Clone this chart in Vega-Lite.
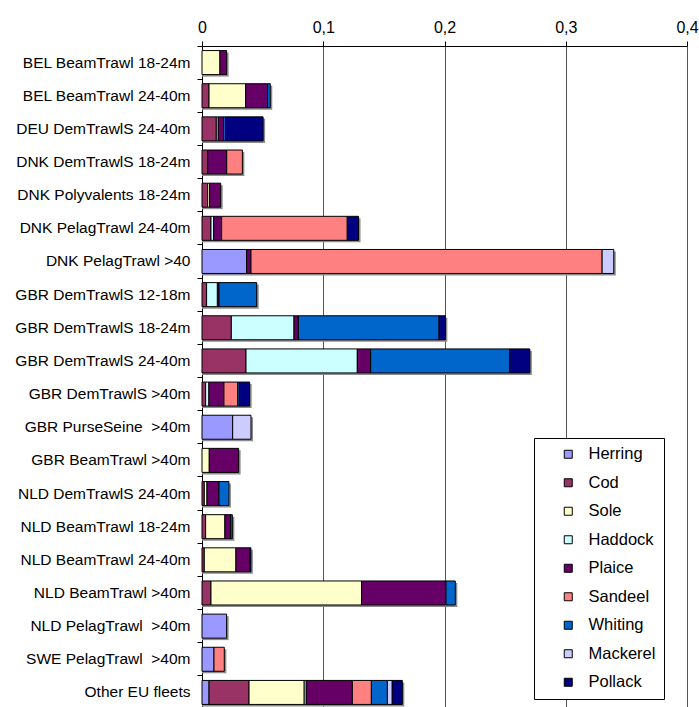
{
  "$schema": "https://vega.github.io/schema/vega-lite/v6.json",
  "width": 485,
  "height": 663,
  "autosize": "none",
  "padding": {"left": 202, "top": 46, "right": 12, "bottom": 0},
  "background": "white",
  "config": {
    "view": {"stroke": null},
    "font": "Liberation Sans"
  },
  "data": {
    "values": [
      {"fleet": "BEL BeamTrawl 18-24m", "species": "Sole", "value": 0.0148},
      {"fleet": "BEL BeamTrawl 18-24m", "species": "Plaice", "value": 0.0055},
      {"fleet": "BEL BeamTrawl 24-40m", "species": "Cod", "value": 0.0058},
      {"fleet": "BEL BeamTrawl 24-40m", "species": "Sole", "value": 0.0302},
      {"fleet": "BEL BeamTrawl 24-40m", "species": "Plaice", "value": 0.0181},
      {"fleet": "BEL BeamTrawl 24-40m", "species": "Whiting", "value": 0.0022},
      {"fleet": "DEU DemTrawlS 24-40m", "species": "Cod", "value": 0.0118},
      {"fleet": "DEU DemTrawlS 24-40m", "species": "Haddock", "value": 0.0016},
      {"fleet": "DEU DemTrawlS 24-40m", "species": "Plaice", "value": 0.0044},
      {"fleet": "DEU DemTrawlS 24-40m", "species": "Whiting", "value": 0.0016},
      {"fleet": "DEU DemTrawlS 24-40m", "species": "Pollack", "value": 0.031},
      {"fleet": "DNK DemTrawlS 18-24m", "species": "Cod", "value": 0.0047},
      {"fleet": "DNK DemTrawlS 18-24m", "species": "Plaice", "value": 0.0157},
      {"fleet": "DNK DemTrawlS 18-24m", "species": "Sandeel", "value": 0.0129},
      {"fleet": "DNK Polyvalents 18-24m", "species": "Cod", "value": 0.0047},
      {"fleet": "DNK Polyvalents 18-24m", "species": "Sole", "value": 0.0016},
      {"fleet": "DNK Polyvalents 18-24m", "species": "Plaice", "value": 0.0091},
      {"fleet": "DNK PelagTrawl 24-40m", "species": "Cod", "value": 0.0074},
      {"fleet": "DNK PelagTrawl 24-40m", "species": "Haddock", "value": 0.0022},
      {"fleet": "DNK PelagTrawl 24-40m", "species": "Plaice", "value": 0.0066},
      {"fleet": "DNK PelagTrawl 24-40m", "species": "Sandeel", "value": 0.1036},
      {"fleet": "DNK PelagTrawl 24-40m", "species": "Pollack", "value": 0.0093},
      {"fleet": "DNK PelagTrawl >40", "species": "Herring", "value": 0.0368},
      {"fleet": "DNK PelagTrawl >40", "species": "Plaice", "value": 0.0036},
      {"fleet": "DNK PelagTrawl >40", "species": "Sandeel", "value": 0.2896},
      {"fleet": "DNK PelagTrawl >40", "species": "Mackerel", "value": 0.0096},
      {"fleet": "GBR DemTrawlS 12-18m", "species": "Cod", "value": 0.0038},
      {"fleet": "GBR DemTrawlS 12-18m", "species": "Plaice", "value": 0.0014},
      {"fleet": "GBR DemTrawlS 12-18m", "species": "Haddock", "value": 0.0088},
      {"fleet": "GBR DemTrawlS 12-18m", "species": "Whiting", "value": 0.0311},
      {"fleet": "GBR DemTrawlS 18-24m", "species": "Cod", "value": 0.0242},
      {"fleet": "GBR DemTrawlS 18-24m", "species": "Haddock", "value": 0.0517},
      {"fleet": "GBR DemTrawlS 18-24m", "species": "Plaice", "value": 0.0036},
      {"fleet": "GBR DemTrawlS 18-24m", "species": "Whiting", "value": 0.116},
      {"fleet": "GBR DemTrawlS 18-24m", "species": "Pollack", "value": 0.0052},
      {"fleet": "GBR DemTrawlS 24-40m", "species": "Cod", "value": 0.0363},
      {"fleet": "GBR DemTrawlS 24-40m", "species": "Haddock", "value": 0.0918},
      {"fleet": "GBR DemTrawlS 24-40m", "species": "Plaice", "value": 0.011},
      {"fleet": "GBR DemTrawlS 24-40m", "species": "Whiting", "value": 0.1148},
      {"fleet": "GBR DemTrawlS 24-40m", "species": "Pollack", "value": 0.0165},
      {"fleet": "GBR DemTrawlS >40m", "species": "Cod", "value": 0.003},
      {"fleet": "GBR DemTrawlS >40m", "species": "Haddock", "value": 0.0027},
      {"fleet": "GBR DemTrawlS >40m", "species": "Plaice", "value": 0.0124},
      {"fleet": "GBR DemTrawlS >40m", "species": "Sandeel", "value": 0.0113},
      {"fleet": "GBR DemTrawlS >40m", "species": "Whiting", "value": 0.0014},
      {"fleet": "GBR DemTrawlS >40m", "species": "Pollack", "value": 0.0085},
      {"fleet": "GBR PurseSeine \u00a0>40m", "species": "Herring", "value": 0.0253},
      {"fleet": "GBR PurseSeine \u00a0>40m", "species": "Mackerel", "value": 0.0151},
      {"fleet": "GBR BeamTrawl >40m", "species": "Sole", "value": 0.006},
      {"fleet": "GBR BeamTrawl >40m", "species": "Plaice", "value": 0.0242},
      {"fleet": "NLD DemTrawlS 24-40m", "species": "Cod", "value": 0.0019},
      {"fleet": "NLD DemTrawlS 24-40m", "species": "Sole", "value": 0.0022},
      {"fleet": "NLD DemTrawlS 24-40m", "species": "Plaice", "value": 0.0099},
      {"fleet": "NLD DemTrawlS 24-40m", "species": "Whiting", "value": 0.0082},
      {"fleet": "NLD BeamTrawl 18-24m", "species": "Cod", "value": 0.003},
      {"fleet": "NLD BeamTrawl 18-24m", "species": "Sole", "value": 0.0159},
      {"fleet": "NLD BeamTrawl 18-24m", "species": "Plaice", "value": 0.0047},
      {"fleet": "NLD BeamTrawl 18-24m", "species": "Whiting", "value": 0.0014},
      {"fleet": "NLD BeamTrawl 24-40m", "species": "Cod", "value": 0.0019},
      {"fleet": "NLD BeamTrawl 24-40m", "species": "Sole", "value": 0.0261},
      {"fleet": "NLD BeamTrawl 24-40m", "species": "Plaice", "value": 0.0115},
      {"fleet": "NLD BeamTrawl 24-40m", "species": "Pollack", "value": 0.0008},
      {"fleet": "NLD BeamTrawl >40m", "species": "Cod", "value": 0.0074},
      {"fleet": "NLD BeamTrawl >40m", "species": "Sole", "value": 0.1242},
      {"fleet": "NLD BeamTrawl >40m", "species": "Plaice", "value": 0.0696},
      {"fleet": "NLD BeamTrawl >40m", "species": "Whiting", "value": 0.0077},
      {"fleet": "NLD PelagTrawl \u00a0>40m", "species": "Herring", "value": 0.0203},
      {"fleet": "SWE PelagTrawl \u00a0>40m", "species": "Herring", "value": 0.0099},
      {"fleet": "SWE PelagTrawl \u00a0>40m", "species": "Sandeel", "value": 0.0085},
      {"fleet": "Other EU fleets", "species": "Herring", "value": 0.0058},
      {"fleet": "Other EU fleets", "species": "Cod", "value": 0.033},
      {"fleet": "Other EU fleets", "species": "Sole", "value": 0.0455},
      {"fleet": "Other EU fleets", "species": "Haddock", "value": 0.0017},
      {"fleet": "Other EU fleets", "species": "Plaice", "value": 0.038},
      {"fleet": "Other EU fleets", "species": "Sandeel", "value": 0.0157},
      {"fleet": "Other EU fleets", "species": "Whiting", "value": 0.0132},
      {"fleet": "Other EU fleets", "species": "Mackerel", "value": 0.004},
      {"fleet": "Other EU fleets", "species": "Pollack", "value": 0.0083}
    ]
  },
  "transform": [
    {"calculate": "indexof(['Herring','Cod','Sole','Haddock','Plaice','Sandeel','Whiting','Mackerel','Pollack'], datum.species)", "as": "stackOrder"}
  ],
  "encoding": {
    "y": {
      "field": "fleet",
      "type": "nominal",
      "sort": null,
      "scale": {"paddingInner": 0, "paddingOuter": 0},
      "axis": {
        "title": null,
        "bandPosition": 0,
        "domainColor": "black",
        "tickColor": "black",
        "tickSize": 5,
        "labelPadding": 7,
        "labelFontSize": 15.5,
        "labelColor": "black",
        "labelLimit": 250,
        "grid": false
      }
    }
  },
  "layer": [
    {
      "mark": {"type": "bar", "height": {"band": 0.724}, "fill": "#8c8c8c", "stroke": null, "xOffset": 2, "yOffset": 2},
      "encoding": {
        "x": {
          "field": "value",
          "type": "quantitative",
          "aggregate": "sum",
          "scale": {"domain": [0, 0.4], "nice": false},
          "axis": {
            "orient": "top",
            "title": null,
            "values": [0, 0.1, 0.2, 0.3, 0.4],
            "labelExpr": "datum.value == 0 ? '0' : replace(format(datum.value, '.1f'), '.', ',')",
            "domainColor": "black",
            "tickColor": "black",
            "tickSize": 5,
            "labelPadding": 6,
            "labelFontSize": 16,
            "labelColor": "black",
            "labelFlush": false,
            "grid": true,
            "gridColor": "#555555",
            "gridOpacity": 1,
            "gridWidth": 1
          }
        }
      }
    },
    {
      "mark": {"type": "bar", "height": {"band": 0.724}, "stroke": "black", "strokeWidth": 1},
      "encoding": {
        "x": {
          "field": "value",
          "type": "quantitative",
          "stack": "zero"
        },
        "order": {"field": "stackOrder", "type": "quantitative", "sort": "ascending"},
        "color": {
          "field": "species",
          "type": "nominal",
          "sort": ["Herring", "Cod", "Sole", "Haddock", "Plaice", "Sandeel", "Whiting", "Mackerel", "Pollack"],
          "scale": {
            "domain": ["Herring", "Cod", "Sole", "Haddock", "Plaice", "Sandeel", "Whiting", "Mackerel", "Pollack"],
            "range": ["#9999FF", "#993366", "#FFFFCC", "#CCFFFF", "#660066", "#FF8080", "#0066CC", "#CCCCFF", "#000080"]
          },
          "legend": {
            "title": null,
            "orient": "none",
            "legendX": 332,
            "legendY": 392,
            "direction": "vertical",
            "fillColor": "white",
            "strokeColor": "black",
            "padding": 8,
            "symbolType": "square",
            "symbolSize": 64,
            "symbolStrokeColor": "black",
            "symbolStrokeWidth": 1,
            "symbolOffset": 18,
            "labelOffset": 12,
            "labelFontSize": 16.5,
            "labelColor": "black",
            "rowPadding": 11.5
          }
        }
      }
    }
  ]
}
